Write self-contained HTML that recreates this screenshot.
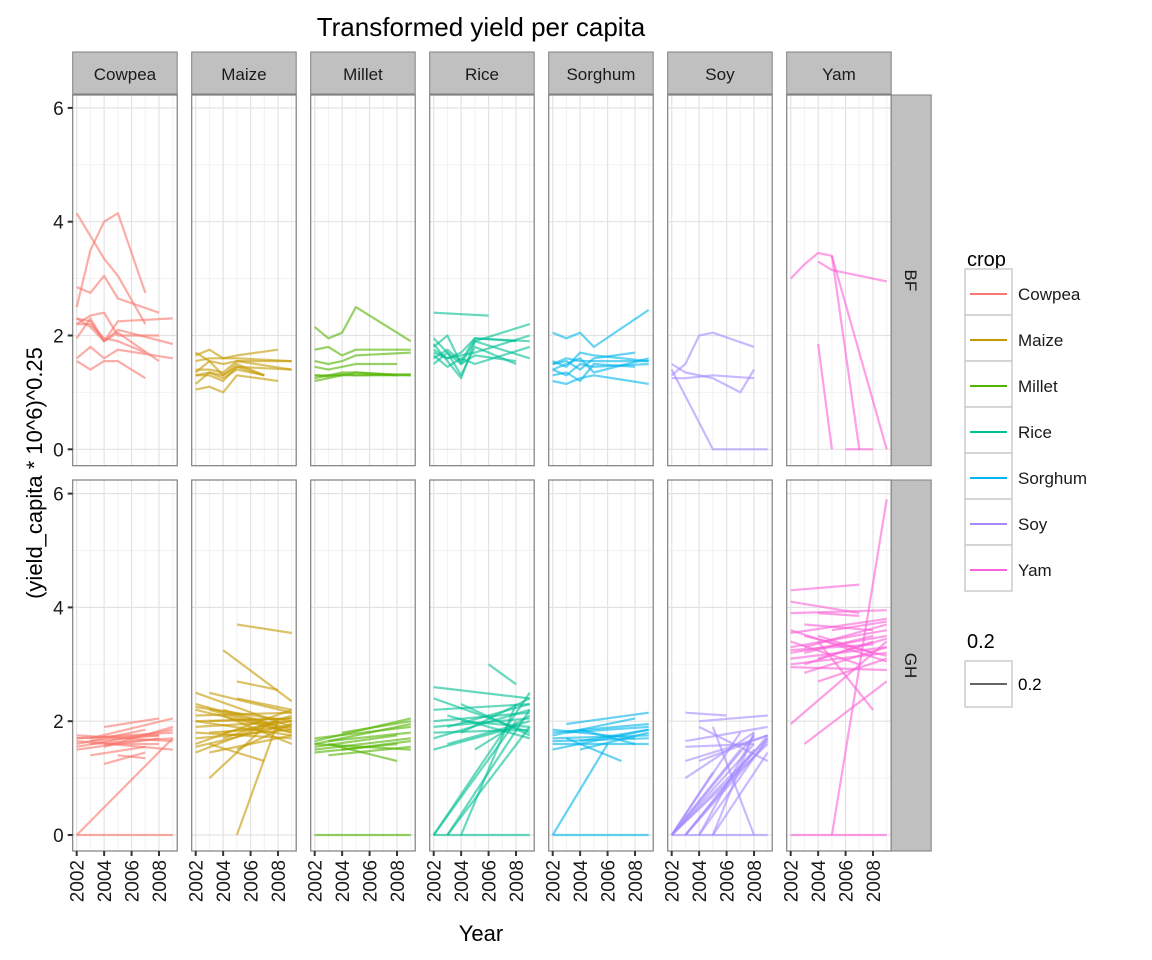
<!DOCTYPE html>
<html><head><meta charset="utf-8">
<style>
html,body{margin:0;padding:0;background:#fff;}
svg{display:block;font-family:"Liberation Sans",Arial,sans-serif;}
</style></head>
<body>
<svg id="chart" width="1152" height="960" viewBox="0 0 1152 960">
<text x="481" y="36" font-size="26" text-anchor="middle">Transformed yield per capita</text>
<text transform="translate(42,473) rotate(-90)" font-size="22" text-anchor="middle">(yield_capita * 10^6)^0.25</text>
<text x="481" y="941" font-size="22" text-anchor="middle">Year</text>
<g id="panels"></g>
<g id="legend">
<text x="967" y="266" font-size="20">crop</text>
<text x="967" y="648" font-size="20">0.2</text>
<rect x="965" y="661" width="47" height="46" fill="#fff" stroke="#ccc" stroke-width="1.5"/>
<line x1="970" y1="684" x2="1007" y2="684" stroke="#666" stroke-width="2"/>
<text x="1018" y="690" font-size="17">0.2</text>
</g>
</svg>
<script>
const years=[2002,2003,2004,2005,2006,2007,2008,2009];
const crops=["Cowpea","Maize","Millet","Rice","Sorghum","Soy","Yam"];
const countries=["BF","GH"];
const colors=["#F8766D","#C49A00","#53B400","#00C094","#00B6EB","#A58AFF","#FB61D7"];
const yTicks=[0,2,4,6];
const xTicks=[2002,2004,2006,2008];
const N=null;
// BF series (values for 2002..2009)
const bfCowpea=[[4.15,N,3.35,3.05,N,2.2,N,N],[2.5,3.5,4.0,4.15,N,2.75,N,N],[2.85,2.75,3.05,2.65,N,N,2.4,N],[2.3,2.25,1.9,2.25,N,N,N,2.3],[2.2,2.35,2.4,2.0,N,N,2.0,N],[1.95,2.3,1.9,2.1,N,N,N,1.85],[2.2,2.2,1.95,1.9,N,1.7,N,N],[1.6,1.8,1.6,1.75,N,N,N,1.6],[1.55,1.4,1.55,1.55,N,1.25,N,N],[2.3,2.15,1.9,2.05,N,N,1.55,N]];
const bfMaize=[[1.65,1.75,1.6,1.65,N,N,1.75,N],[1.7,1.55,1.5,1.55,N,N,N,1.55],[1.35,1.55,1.3,1.5,N,1.3,N,N],[1.3,1.3,1.2,1.45,N,1.3,N,N],[1.05,1.1,1.0,1.3,N,N,1.2,N],[1.4,1.4,1.35,1.55,N,N,N,1.4],[1.55,1.6,1.6,1.6,N,N,N,1.55],[1.15,1.35,1.3,1.45,N,N,N,1.4],[1.3,1.35,1.25,1.4,N,1.3,N,N]];
const bfMillet=[[2.15,1.95,2.05,2.5,N,N,N,1.9],[1.75,1.8,1.65,1.75,N,N,N,1.75],[1.55,1.5,1.55,1.65,N,N,N,1.7],[1.3,1.3,1.35,1.35,N,N,1.3,N],[1.25,1.3,1.3,1.3,N,N,N,1.3],[1.45,1.4,1.45,1.5,N,N,1.5,N],[1.2,1.25,1.3,1.35,N,N,N,1.3],[1.3,1.28,1.32,1.3,N,N,N,1.32]];
const bfRice=[[2.4,N,N,N,2.35,N,N,N],[1.8,2.0,1.5,1.9,N,N,N,2.2],[1.7,1.6,1.7,1.95,N,N,N,1.9],[1.5,1.7,1.3,1.8,N,N,1.5,N],[1.65,1.45,1.6,1.5,N,N,N,1.8],[1.85,1.55,1.25,1.9,N,N,N,1.6],[1.95,1.7,1.5,1.65,N,N,1.55,N],[1.6,1.75,1.55,1.95,N,N,1.9,N],[1.75,1.6,1.65,1.7,N,N,N,2.0]];
const bfSorghum=[[2.05,1.95,2.05,1.8,N,N,N,2.45],[1.55,1.45,1.7,1.65,N,N,N,1.55],[1.5,1.55,1.4,1.6,N,N,1.7,N],[1.4,1.3,1.5,1.45,N,N,N,1.5],[1.2,1.15,1.25,1.3,N,N,N,1.15],[1.4,1.5,1.6,1.35,N,N,N,1.6],[1.3,1.35,1.2,1.5,N,N,1.45,N],[1.5,1.6,1.55,1.55,N,N,N,1.55]];
const bfSoy=[[1.5,1.35,1.3,1.25,N,1.0,1.4,N],[1.3,1.5,2.0,2.05,N,N,1.8,N],[1.4,N,N,0,N,N,N,0],[1.25,1.25,N,1.3,N,N,1.25,N]];
const bfYam=[[3.0,3.25,3.45,3.4,N,0,N,N],[N,N,3.3,3.15,N,N,N,2.95],[N,N,1.85,0,N,N,N,N],[N,N,N,N,0,0,0,N],[N,N,N,3.4,N,N,N,0]];
// GH series
const ghCowpea=[[0,N,N,N,N,N,N,0],[0,N,N,N,N,N,N,1.7],[1.7,N,N,N,N,N,1.75,N],[1.6,N,N,N,N,1.85,N,N],[1.55,N,N,N,N,N,N,1.85],[1.65,N,N,N,N,N,N,1.5],[N,1.4,N,N,N,1.55,N,N],[N,N,1.25,N,N,1.45,N,N],[N,N,1.9,N,N,N,2.05,N],[N,1.7,N,N,N,N,N,2.05],[N,N,1.6,N,N,N,1.6,N],[N,1.6,N,N,N,N,N,1.7],[N,N,N,1.4,N,1.35,N,N],[1.75,N,N,N,N,N,N,1.65],[1.7,N,N,N,N,N,N,1.8],[N,1.65,N,N,N,N,1.75,N],[N,N,1.55,N,N,N,N,1.9],[1.5,N,N,N,N,N,1.7,N]];
const ghMaize=[[N,N,N,3.7,N,N,N,3.55],[N,N,3.25,N,N,N,N,2.35],[N,N,N,2.7,N,N,2.55,N],[N,N,N,0,N,N,2.0,N],[2.5,N,N,N,N,N,N,1.9],[N,2.5,N,N,N,N,N,2.15],[2.2,N,N,N,N,N,N,1.8],[2.0,N,N,N,N,N,N,2.05],[1.8,N,N,N,N,N,N,1.7],[1.6,N,N,N,N,N,N,2.2],[1.45,N,N,N,N,N,2.0,N],[N,1.0,N,N,N,1.9,N,N],[N,1.6,N,N,N,1.3,N,N],[N,2.2,N,N,N,N,N,1.8],[N,N,2.1,N,N,N,N,1.6],[N,N,1.8,N,N,N,N,2.0],[N,N,N,2.4,N,N,N,2.2],[N,N,N,1.5,N,N,N,1.95],[2.3,N,N,N,N,N,1.9,N],[1.9,N,N,N,N,N,N,2.0],[2.1,N,N,N,N,N,N,2.15],[1.7,N,N,N,N,N,N,1.85],[2.0,N,N,N,N,N,N,1.75],[N,2.0,N,N,N,N,N,2.05],[N,1.8,N,N,N,N,N,1.9],[N,N,2.2,N,N,N,N,1.85],[N,N,1.7,N,N,N,N,2.1],[1.55,N,N,N,N,N,N,1.95],[2.25,N,N,N,N,N,N,2.0],[N,1.45,N,N,N,N,N,1.75]];
const ghMillet=[[0,N,N,N,N,N,N,0],[1.65,N,N,N,N,N,N,2.05],[1.55,N,N,N,N,N,1.75,N],[1.7,N,N,N,N,N,N,1.9],[1.5,N,N,N,N,N,N,1.7],[N,1.6,N,N,N,N,1.3,N],[N,N,1.8,N,N,N,N,2.0],[N,1.4,N,N,N,N,N,1.55],[1.6,N,N,N,N,N,N,1.5],[1.6,N,N,N,N,N,N,1.95],[N,1.65,N,N,N,N,N,1.8],[N,N,1.5,N,N,N,N,1.65],[1.45,N,N,N,N,N,1.6,N]];
const ghRice=[[0,N,N,N,N,N,N,0],[0,N,N,N,N,N,N,2.5],[N,0,N,N,N,N,N,2.2],[N,N,0,N,N,N,2.3,N],[N,N,N,N,3.0,N,2.65,N],[2.6,N,N,N,N,N,N,2.4],[2.4,N,N,N,N,N,N,1.8],[2.2,N,N,N,N,N,N,2.3],[1.9,N,N,N,N,N,N,2.05],[1.7,N,N,N,N,N,N,2.2],[1.5,N,N,N,N,N,1.9,N],[N,2.1,N,N,N,N,N,1.7],[N,1.6,N,N,N,N,N,2.0],[N,N,2.3,N,N,N,N,1.75],[N,N,1.8,N,N,N,N,2.4],[N,N,N,1.5,N,N,N,2.1],[0,N,N,N,N,N,2.0,N],[N,0,N,N,N,N,N,1.9],[2.0,N,N,N,N,N,N,2.15],[N,1.9,N,N,N,N,N,2.3],[N,N,2.0,N,N,N,N,1.9],[1.8,N,N,N,N,N,N,1.85]];
const ghSorghum=[[0,N,N,N,N,N,N,0],[0,N,N,N,1.6,N,N,N],[1.8,N,N,N,N,N,N,1.95],[1.75,N,N,N,N,N,2.05,N],[1.65,N,N,N,N,N,N,1.7],[1.5,N,N,N,N,N,N,1.85],[N,1.95,N,N,N,N,N,2.15],[N,1.7,N,N,N,1.3,N,N],[N,N,1.5,N,N,N,N,1.8],[N,N,1.85,N,N,N,1.6,N],[1.6,N,N,N,N,N,N,1.6],[1.7,N,N,N,N,N,N,1.75],[N,1.8,N,N,N,N,N,1.9],[1.85,N,N,N,N,N,1.7,N],[N,N,1.65,N,N,N,N,1.85]];
const ghSoy=[[0,N,N,N,N,N,N,0],[N,2.15,N,N,2.1,N,N,N],[N,N,2.0,N,N,N,N,2.1],[N,1.65,N,N,N,N,N,1.9],[N,1.0,N,N,N,N,1.8,N],[N,N,1.3,N,N,N,N,1.75],[0,N,N,N,N,N,1.75,N],[0,N,N,N,N,N,N,1.7],[N,0,N,N,N,N,N,1.65],[N,N,0,N,N,N,N,1.7],[N,N,N,0,N,N,1.8,N],[N,N,N,1.9,N,N,0,N],[0,N,N,N,N,1.8,N,N],[N,0,N,N,N,N,1.5,N],[N,N,N,0,N,N,N,1.45],[N,1.55,N,N,N,N,1.6,N],[N,N,1.9,N,N,N,N,1.3],[0,N,N,1.1,N,N,N,N],[0,N,N,N,N,N,N,1.6],[0,N,N,N,N,N,1.6,N],[N,0,N,N,N,N,N,1.75],[N,N,0,N,N,N,1.75,N],[0,N,N,N,N,1.5,N,N],[N,1.3,N,N,N,N,N,1.75]];
const ghYam=[[0,N,N,N,N,N,N,0],[N,N,N,0,N,N,N,5.9],[4.3,N,N,N,N,4.4,N,N],[4.1,N,N,N,N,3.9,N,N],[3.9,N,N,N,N,N,N,3.95],[3.55,N,N,N,N,N,N,3.8],[3.3,N,N,N,N,N,N,3.6],[3.1,N,N,N,N,N,N,3.3],[2.95,N,N,N,N,N,N,2.9],[1.95,N,N,N,N,N,N,3.4],[N,1.6,N,N,N,N,N,2.7],[N,3.7,N,N,N,N,3.6,N],[N,3.2,N,N,N,N,3.5,N],[N,2.85,N,N,N,N,N,3.3],[N,N,3.9,N,N,3.85,N,N],[N,N,2.7,N,N,N,N,3.1],[N,N,N,3.6,N,N,N,3.75],[3.4,N,N,N,N,3.0,N,N],[N,3.5,N,N,N,N,N,3.15],[N,N,3.4,N,N,N,2.2,N],[3.2,N,N,N,N,N,N,3.5],[3.0,N,N,N,N,N,N,3.2],[N,3.3,N,N,N,N,N,3.7],[N,3.0,N,N,N,N,3.4,N],[3.6,N,N,N,N,N,N,3.05],[N,N,3.1,N,N,N,N,3.45],[N,N,3.5,N,N,N,3.2,N],[3.25,N,N,N,N,N,3.35,N]];
const bfData=[bfCowpea,bfMaize,bfMillet,bfRice,bfSorghum,bfSoy,bfYam];
const ghData=[ghCowpea,ghMaize,ghMillet,ghRice,ghSorghum,ghSoy,ghYam];

const NS="http://www.w3.org/2000/svg";
const root=document.getElementById('panels');
const PW=104.5, panelLeft=i=>72.7+i*119;
const rowTop=[95,480], rowBot=[465.7,851];
const xScale=(i,yr)=>panelLeft(i)+4+(yr-2002)*13.72;
const yScale=(r,v)=>(r===0?449.3:835)-v*56.9;
function mk(tag,attrs,parent){const e=document.createElementNS(NS,tag);for(const k in attrs)e.setAttribute(k,attrs[k]);parent.appendChild(e);return e;}

for(let r=0;r<2;r++){
  const data=r===0?bfData:ghData;
  for(let i=0;i<crops.length;i++){
    const g=mk('g',{},root);
    
    
    const L=panelLeft(i),T=rowTop[r],B=rowBot[r];
    mk('rect',{x:L,y:T,width:PW,height:B-T,fill:'#fff'},g);
    for(let v=1;v<=5;v+=2){mk('line',{x1:L,x2:L+PW,y1:yScale(r,v),y2:yScale(r,v),stroke:'#f2f2f2','stroke-width':1},g);}
    for(let yr=2003;yr<=2009;yr+=2){mk('line',{x1:xScale(i,yr),x2:xScale(i,yr),y1:T,y2:B,stroke:'#f2f2f2','stroke-width':1},g);}
    yTicks.forEach(v=>{mk('line',{x1:L,x2:L+PW,y1:yScale(r,v),y2:yScale(r,v),stroke:'#e3e3e3','stroke-width':1.2},g);});
    xTicks.forEach(yr=>{mk('line',{x1:xScale(i,yr),x2:xScale(i,yr),y1:T,y2:B,stroke:'#e3e3e3','stroke-width':1.2},g);});
    data[i].forEach((s,si)=>{
      const pts=[];s.forEach((v,k)=>{if(v!==null)pts.push(xScale(i,years[k]).toFixed(1)+','+yScale(r,v).toFixed(1));});
      const pl=mk('polyline',{points:pts.join(' '),fill:'none',stroke:colors[i],'stroke-width':2.2,'stroke-opacity':0.6,'stroke-linejoin':'round'},g);
      
      
    });
    mk('rect',{x:L,y:T,width:PW,height:B-T,fill:'none',stroke:'#7f7f7f','stroke-width':1.2},g);
    if(r===0){
      const st=mk('rect',{x:L,y:52,width:PW,height:42,fill:'#c0c0c0',stroke:'#7f7f7f','stroke-width':1},g);
      
      
      const tx=mk('text',{x:L+PW/2,y:80,'font-size':17,'text-anchor':'middle',fill:'#1a1a1a'},g);tx.textContent=crops[i];
    } else {
      xTicks.forEach(yr=>{
        const x=xScale(i,yr);
        mk('line',{x1:x,x2:x,y1:B,y2:B+5,stroke:'#333','stroke-width':2},g);
        const t=mk('text',{transform:`translate(${x+7},${B+9}) rotate(-90)`,'font-size':19,'text-anchor':'end',fill:'#1a1a1a'},g);
        t.textContent=yr;
        
        
      });
    }
    if(i===0){
      yTicks.forEach(v=>{
        const y=yScale(r,v);
        mk('line',{x1:L-5,x2:L,y1:y,y2:y,stroke:'#333','stroke-width':2},g);
        const t=mk('text',{x:L-9,y:y+7,'font-size':19,'text-anchor':'end',fill:'#1a1a1a'},g);
        t.textContent=v;
        
        
      });
    }
  }
  const L=panelLeft(6)+PW;
  const rs=mk('rect',{x:L,y:rowTop[r],width:40,height:rowBot[r]-rowTop[r],fill:'#c0c0c0',stroke:'#7f7f7f','stroke-width':1},root);
  
  
  const t=mk('text',{transform:`translate(${L+14},${(rowTop[r]+rowBot[r])/2}) rotate(90)`,'font-size':17,'text-anchor':'middle',fill:'#1a1a1a'},root);
  t.textContent=countries[r];
}
const lg=document.getElementById('legend');
crops.forEach((c,k)=>{
  const y=269+k*46;
  const rc=mk('rect',{x:965,y:y,width:47,height:46,fill:'#fff',stroke:'#ccc','stroke-width':1.5},lg);
  
  
  mk('line',{x1:970,x2:1007,y1:y+25,y2:y+25,stroke:colors[k],'stroke-width':2},lg);
  const t=mk('text',{x:1018,y:y+31,'font-size':17,fill:'#1a1a1a'},lg);
  t.textContent=c;
  
  
});
</script>
</body></html>
